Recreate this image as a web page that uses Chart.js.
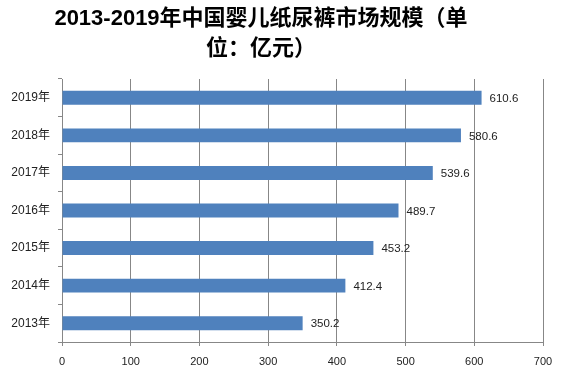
<!DOCTYPE html>
<html><head><meta charset="utf-8">
<script src="https://cdn.jsdelivr.net/npm/chart.js@4"></script>
<style>html,body{margin:0;padding:0;background:#fff}#wrap{width:563px;height:379px}</style>
</head><body><div id="wrap"><canvas id="c" width="563" height="379"></canvas></div>
<script>
const categories = ['2019年','2018年','2017年','2016年','2015年','2014年','2013年'];
const values = [610.6, 580.6, 539.6, 489.7, 453.2, 412.4, 350.2];
const titleLines = ['2013-2019年中国婴儿纸尿裤市场规模（单', '位：亿元）'];
const xTicks = [0,100,200,300,400,500,600,700];

const FONT = '"Liberation Sans", "Noto Sans CJK SC", sans-serif';

const titlePlugin = {
  id: 'titleText',
  afterDraw(chart) {
    const ctx = chart.ctx;
    ctx.save();
    ctx.fillStyle = '#000';
    ctx.textAlign = 'center';
    ctx.textBaseline = 'middle';
    ctx.font = 'bold 22px "Liberation Sans", "Noto Sans CJK SC", sans-serif';
    titleLines.forEach((t, i) => ctx.fillText(t, 261, 19 + i * 30));
    ctx.restore();
  }
};
const labelPlugin = {
  id: 'barLabels',
  afterDatasetsDraw(chart) {
    const ctx = chart.ctx;
    const meta = chart.getDatasetMeta(0);
    ctx.save();
    ctx.fillStyle = '#222';
    ctx.textAlign = 'left';
    ctx.textBaseline = 'middle';
    ctx.font = '11.5px ' + FONT;
    meta.data.forEach((bar, i) => {
      ctx.fillText(values[i].toFixed(1), bar.x + 8, bar.y + 1);
    });
    ctx.restore();
  }
};

new Chart(document.getElementById('c'), {
  type: 'bar',
  data: {
    labels: categories,
    datasets: [{
      data: values,
      backgroundColor: '#4F81BD',
      borderWidth: 0,
      categoryPercentage: 1,
      barPercentage: 0.37
    }]
  },
  options: {
    indexAxis: 'y',
    responsive: false,
    animation: false,
    layout: { padding: { top: 79, right: 20, left: 0, bottom: 0 } },
    plugins: { legend: { display: false }, tooltip: { enabled: false }, title: { display: false } },
    scales: {
      x: {
        min: 0, max: 700,
        afterBuildTicks(scale) { scale.ticks = xTicks.map(v => ({ value: v })); },
        afterFit(scale) { scale.height = 37; },
        grid: { color: '#878787', lineWidth: 1, tickLength: 4, drawTicks: true },
        border: { color: '#878787' },
        ticks: { color: '#222', font: { size: 11, family: FONT }, padding: 9, maxRotation: 0 }
      },
      y: {
        afterFit(scale) { scale.width = 62; },
        grid: { drawOnChartArea: false, drawTicks: true, tickLength: 4, offset: true, color: '#878787' },
        border: { color: '#878787' },
        ticks: { color: '#222', font: { size: 12, family: FONT }, padding: 8 }
      }
    }
  },
  plugins: [titlePlugin, labelPlugin]
});
</script>
</body></html>
